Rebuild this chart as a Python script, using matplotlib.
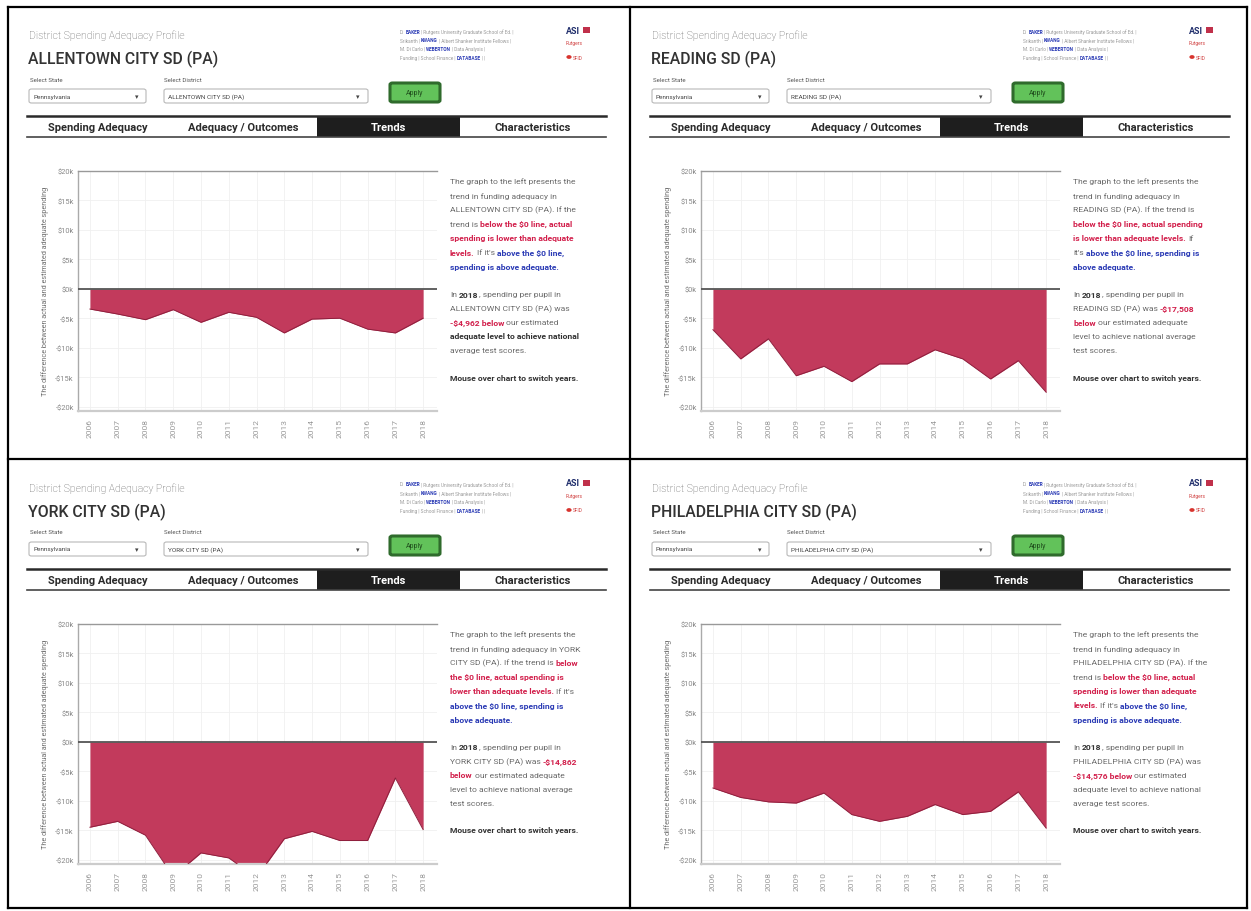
import re
import matplotlib
matplotlib.use('Agg')
import matplotlib.pyplot as plt
from matplotlib.patches import Rectangle, FancyBboxPatch, Circle
from matplotlib.lines import Line2D
import numpy as np

W, H = 1251, 912
plt.rcParams['font.family'] = ['Roboto', 'DejaVu Sans']

# ---------------- data ----------------
years = ['2006', '2007', '2008', '2009', '2010', '2011', '2012',
         '2013', '2014', '2015', '2016', '2017', '2018']
districts = ['ALLENTOWN CITY SD (PA)', 'READING SD (PA)',
             'YORK CITY SD (PA)', 'PHILADELPHIA CITY SD (PA)']
allentown = [-3400, -4250, -5200, -3500, -5650, -3950, -4800,
             -7450, -5100, -4950, -6800, -7450, -4950]
reading = [-6900, -11850, -8450, -14700, -13100, -15700, -12700,
           -12700, -10300, -11850, -15250, -12150, -17500]
york = [-14450, -13450, -15800, -22800, -18800, -19650, -23000,
        -16400, -15150, -16700, -16700, -6100, -14850]
philadelphia = [-7800, -9400, -10150, -10350, -8650, -12300, -13450,
                -12600, -10600, -12300, -11750, -8450, -14600]
series = [allentown, reading, york, philadelphia]
ytick_vals = [20000, 15000, 10000, 5000, 0, -5000, -10000, -15000, -20000]
ytick_labels = ['$20k', '$15k', '$10k', '$5k', '$0k', '-$5k', '-$10k', '-$15k', '-$20k']
tabs = ['Spending Adequacy', 'Adequacy / Outcomes', 'Trends', 'Characteristics']
state = 'Pennsylvania'

paragraphs = [
    ["The graph to the left presents the",
     "trend in funding adequacy in",
     "ALLENTOWN CITY SD (PA). If the",
     "trend is <r>below the $0 line, actual</r>",
     "<r>spending is lower than adequate</r>",
     "<r>levels.</r> If it's <b>above the $0 line,</b>",
     "<b>spending is above adequate.</b>"],
    ["The graph to the left presents the",
     "trend in funding adequacy in",
     "READING SD (PA). If the trend is",
     "<r>below the $0 line, actual spending</r>",
     "<r>is lower than adequate levels.</r> If",
     "it's <b>above the $0 line, spending is</b>",
     "<b>above adequate.</b>"],
    ["The graph to the left presents the",
     "trend in funding adequacy in YORK",
     "CITY SD (PA). If the trend is <r>below</r>",
     "<r>the $0 line, actual spending is</r>",
     "<r>lower than adequate levels.</r> If it's",
     "<b>above the $0 line, spending is</b>",
     "<b>above adequate.</b>"],
    ["The graph to the left presents the",
     "trend in funding adequacy in",
     "PHILADELPHIA CITY SD (PA). If the",
     "trend is <r>below the $0 line, actual</r>",
     "<r>spending is lower than adequate</r>",
     "<r>levels.</r> If it's <b>above the $0 line,</b>",
     "<b>spending is above adequate.</b>"],
]
second_blocks = [
    ["In <k>2018</k>, spending per pupil in",
     "ALLENTOWN CITY SD (PA) was",
     "<r>-$4,962 below</r> our estimated",
     "<k>adequate level to achieve national</k>",
     "average test scores."],
    ["In <k>2018</k>, spending per pupil in",
     "READING SD (PA) was <r>-$17,508</r>",
     "<r>below</r> our estimated adequate",
     "level to achieve national average",
     "test scores."],
    ["In <k>2018</k>, spending per pupil in",
     "YORK CITY SD (PA) was <r>-$14,862</r>",
     "<r>below</r> our estimated adequate",
     "level to achieve national average",
     "test scores."],
    ["In <k>2018</k>, spending per pupil in",
     "PHILADELPHIA CITY SD (PA) was",
     "<r>-$14,576 below</r> our estimated",
     "adequate level to achieve national",
     "average test scores."],
]

FILL = '#C23A5C'
EDGE = '#8E1F3D'
RED = '#D21F4B'
BLUE = '#2B3BB5'
GREY = '#6a6a6a'

fig = plt.figure(figsize=(W / 100, H / 100), dpi=100)
fig.patch.set_facecolor('white')
renderer = fig.canvas.get_renderer()


def fx(x):
    return x / W


def fy(y):
    return 1 - y / H


def txt(x, y, s, **kw):
    return fig.text(fx(x), fy(y), s, **kw)


def rect(x0, y0, x1, y1, **kw):
    r = Rectangle((fx(x0), fy(y1)), (x1 - x0) / W, (y1 - y0) / H,
                  transform=fig.transFigure, **kw)
    fig.add_artist(r)
    return r


def rbox(x0, y0, x1, y1, **kw):
    r = FancyBboxPatch((fx(x0), fy(y1)), (x1 - x0) / W, (y1 - y0) / H,
                       boxstyle='round,pad=0,rounding_size=0.002',
                       transform=fig.transFigure, **kw)
    fig.add_artist(r)
    return r


def line(x0, y0, x1, y1, **kw):
    fig.add_artist(Line2D([fx(x0), fx(x1)], [fy(y0), fy(y1)],
                          transform=fig.transFigure, **kw))


_space_cache = {}


def space_width(fs):
    if fs not in _space_cache:
        a = fig.text(0, 0, 'a a', fontsize=fs)
        b = fig.text(0, 0, 'aa', fontsize=fs)
        _space_cache[fs] = (a.get_window_extent(renderer).width
                            - b.get_window_extent(renderer).width)
        a.remove()
        b.remove()
    return _space_cache[fs]


STYLE = {None: (GREY, 'normal'), 'r': (RED, 'bold'),
         'b': (BLUE, 'bold'), 'k': ('#333333', 'bold')}


def rich_line(x, y, s, fs, base=None):
    parts = re.split(r'(<[rbk]>.*?</[rbk]>)', s)
    cx = x
    sw = space_width(fs)
    for p in parts:
        if not p:
            continue
        m = re.match(r'<([rbk])>(.*?)</\1>', p)
        if m:
            tag, seg = m.group(1), m.group(2)
        else:
            tag, seg = None, p
        color, weight = STYLE[tag]
        if base is not None and tag is None:
            color = base
        lead = len(seg) - len(seg.lstrip(' '))
        trail = len(seg) - len(seg.rstrip(' '))
        core = seg.strip(' ')
        cx += lead * sw
        if core:
            t = txt(cx, y, core, fontsize=fs, color=color, weight=weight,
                    va='center', ha='left')
            cx += t.get_window_extent(renderer).width
        cx += trail * sw


offsets = [(0, 0), (623, 0), (0, 453), (623, 453)]

for k, (ox, oy) in enumerate(offsets):
    # header
    txt(29 + ox, 36 + oy, 'District Spending Adequacy Profile', fontsize=7.6,
        color='#5f5f5f', va='center', weight='light')
    txt(28 + ox, 59 + oy, districts[k], fontsize=11.3, color='#333333',
        va='center', weight='medium')

    # logo block
    logo_lines = ['D. <b>BAKER</b> | Rutgers University Graduate School of Ed. |',
                  'Srikanth | <b>KWANG</b> | Albert Shanker Institute Fellows |',
                  'M. Di Carlo | <b>WEBERTON</b> | Data Analysis |',
                  'Funding | School Finance | <b>DATABASE</b> | |']
    for i, s in enumerate(logo_lines):
        rich_line(400 + ox, 32 + 8.7 * i + oy, s, 3.4, base='#9a9a9a')
    txt(566 + ox, 31 + oy, 'ASI', fontsize=6.5, color='#1f2d6b', weight='bold', va='center')
    rect(583 + ox, 28 + oy, 590 + ox, 34 + oy, facecolor='#c0304a', lw=0)
    txt(566 + ox, 44 + oy, 'Rutgers', fontsize=3.5, color='#d04040', va='center')
    fig.add_artist(Circle((fx(569 + ox), fy(58 + oy)), 2.6 / W, transform=fig.transFigure,
                          facecolor='#d8342e', lw=0))
    txt(573 + ox, 58 + oy, 'SFID', fontsize=3.5, color='#d04040', va='center')

    # selectors
    txt(30 + ox, 80 + oy, 'Select State', fontsize=4.4, color='#555555', va='center')
    txt(164 + ox, 80 + oy, 'Select District', fontsize=4.4, color='#555555', va='center')
    rbox(29 + ox, 90 + oy, 146 + ox, 104 + oy, facecolor='white', edgecolor='#b8b8b8', lw=0.8)
    rbox(164 + ox, 90 + oy, 368 + ox, 104 + oy, facecolor='white', edgecolor='#b8b8b8', lw=0.8)
    txt(33 + ox, 97 + oy, state, fontsize=4.6, color='#444444', va='center')
    txt(168 + ox, 97 + oy, districts[k], fontsize=4.6, color='#444444', va='center')
    txt(137 + ox, 97 + oy, '\u25BE', fontsize=5, color='#444444', va='center', ha='center',
        family='DejaVu Sans')
    txt(358 + ox, 97 + oy, '\u25BE', fontsize=5, color='#444444', va='center', ha='center',
        family='DejaVu Sans')
    rbox(390 + ox, 84 + oy, 440 + ox, 103 + oy, facecolor='#62c25a', edgecolor='#2f6b2c', lw=2.2)
    txt(415 + ox, 93.5 + oy, 'Apply', fontsize=5, color='#1f4d1c', va='center', ha='center')

    # tabs
    line(27 + ox, 117 + oy, 606 + ox, 117 + oy, color='#2a2a2a', lw=1.8)
    line(27 + ox, 138 + oy, 606 + ox, 138 + oy, color='#444444', lw=1.2)
    rect(317 + ox, 118 + oy, 460 + ox, 138 + oy, facecolor='#1e1e1e', lw=0)
    tab_cx = [98, 243, 388, 533]
    for t, cx in zip(tabs, tab_cx):
        col = 'white' if t == 'Trends' else '#2a2a2a'
        txt(cx + ox, 128 + oy, t, fontsize=8, color=col, weight='bold', va='center', ha='center')

    # chart
    ax = fig.add_axes([fx(78 + ox), fy(412 + oy), (437 - 78) / W, (412 - 172) / H])
    xs = np.arange(len(years))
    vals = np.array(series[k])
    ax.fill_between(xs, 0, vals, color=FILL, lw=0, zorder=2)
    ax.plot(xs, vals, color=EDGE, lw=0.7, zorder=3)
    ax.axhline(0, color='#555555', lw=1.3, zorder=4)
    ax.set_xlim(-0.43, 12.5)
    ax.set_ylim(-20680, 20000)
    ax.set_yticks(ytick_vals)
    ax.set_yticklabels(ytick_labels, fontsize=5.4, color='#888888')
    ax.set_xticks(xs)
    ax.set_xticklabels(years, rotation=90, fontsize=6, color='#999999')
    ax.tick_params(axis='y', length=0, pad=3)
    ax.tick_params(axis='x', length=0, pad=5)
    ax.grid(True, color='#f0f0f0', lw=0.6)
    ax.set_axisbelow(True)
    ax.spines['top'].set_color('#999999')
    ax.spines['top'].set_linewidth(1.0)
    ax.spines['left'].set_color('#aaaaaa')
    ax.spines['left'].set_linewidth(1.0)
    ax.spines['bottom'].set_color('#cccccc')
    ax.spines['bottom'].set_linewidth(1.6)
    ax.spines['right'].set_visible(False)
    txt(45 + ox, 291 + oy, 'The difference between actual and estimated adequate spending',
        fontsize=5.2, color='#6f6f6f', rotation=90, va='center', ha='center')

    # paragraph
    for i, s in enumerate(paragraphs[k]):
        rich_line(450 + ox, 182 + 14.2 * i + oy, s, 6.1)
    for i, s in enumerate(second_blocks[k]):
        rich_line(450 + ox, 295 + 14.0 * i + oy, s, 6.1)
    txt(450 + ox, 378 + oy, 'Mouse over chart to switch years.', fontsize=6.1,
        color='#333333', weight='bold', va='center')

# frame lines
for x in (8, 630, 1247):
    line(x, 8, x, 909, color='black', lw=1.6)
for y in (8, 460, 909):
    line(8, y, 1247, y, color='black', lw=1.6)

fig.savefig('out.png', dpi=100, facecolor='white')
